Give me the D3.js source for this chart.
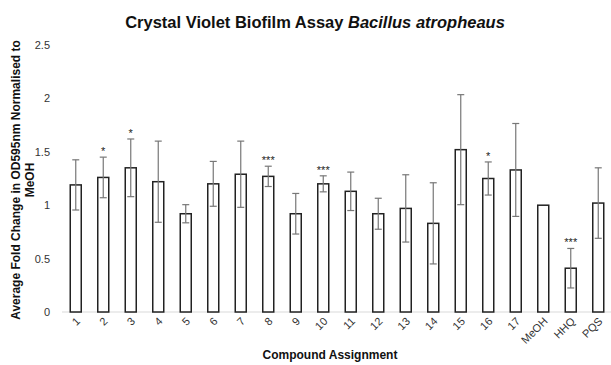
<!DOCTYPE html>
<html><head><meta charset="utf-8">
<script src="https://cdn.jsdelivr.net/npm/d3@7"></script>
<style>body{margin:0;background:#fff}svg{font-family:"Liberation Sans",Arial,sans-serif}</style>
</head><body><svg id="c" width="611" height="365"></svg>
<script>
const categories = ["1","2","3","4","5","6","7","8","9","10","11","12","13","14","15","16","17","MeOH","HHQ","PQS"];
const values = [1.19,1.26,1.35,1.22,0.92,1.20,1.29,1.27,0.92,1.20,1.13,0.92,0.97,0.83,1.52,1.25,1.33,1.00,0.41,1.02];
const errors = [0.235,0.19,0.27,0.38,0.085,0.21,0.31,0.095,0.19,0.075,0.18,0.145,0.315,0.38,0.515,0.155,0.435,0,0.185,0.33];
const stars = ["","*","*","","","","","***","","***","","","","","","*","","","***",""];
const yTicks = [0,0.5,1,1.5,2,2.5];

const svg = d3.select("#c");
const x = d3.scaleBand().domain(categories).range([62,612]).paddingInner(0.6).paddingOuter(0.3);
const y = d3.scaleLinear().domain([0,2.5]).range([312,45]);

svg.append("text").attr("x",315).attr("y",28).attr("text-anchor","middle")
  .attr("font-size",16.5).attr("font-weight","bold").attr("fill","#111")
  .call(t=>{t.append("tspan").text("Crystal Violet Biofilm Assay ");t.append("tspan").attr("font-style","italic").text("Bacillus atropheaus");});

svg.append("g").selectAll("text").data(yTicks).join("text")
  .attr("x",50).attr("y",d=>y(d)+4).attr("text-anchor","end").attr("font-size",11).attr("fill","#333")
  .text(d=>d);

svg.append("line").attr("x1",62).attr("x2",611).attr("y1",y(0)).attr("y2",y(0)).attr("stroke","#d9d9d9").attr("stroke-width",1);

svg.append("g").selectAll("rect").data(categories).join("rect")
  .attr("x",d=>x(d)).attr("width",x.bandwidth())
  .attr("y",(d,i)=>y(values[i])).attr("height",(d,i)=>y(0)-y(values[i]))
  .attr("fill","#fff").attr("stroke","#222").attr("stroke-width",1.5);

const eg = svg.append("g").attr("stroke","#777").attr("stroke-width",1.2);
categories.forEach((c,i)=>{
  if(!errors[i]) return;
  const cx = x(c)+x.bandwidth()/2;
  const t = y(values[i]+errors[i]), b = y(values[i]-errors[i]);
  eg.append("line").attr("x1",cx).attr("x2",cx).attr("y1",t).attr("y2",b);
  eg.append("line").attr("x1",cx-3.5).attr("x2",cx+3.5).attr("y1",t).attr("y2",t);
  eg.append("line").attr("x1",cx-3.5).attr("x2",cx+3.5).attr("y1",b).attr("y2",b);
});

svg.append("g").selectAll("text").data(categories).join("text")
  .attr("x",d=>x(d)+x.bandwidth()/2).attr("y",(d,i)=>y(values[i]+errors[i])-2)
  .attr("text-anchor","middle").attr("font-size",11).attr("fill","#222")
  .text((d,i)=>stars[i]);

svg.append("g").selectAll("text").data(categories).join("text")
  .attr("text-anchor","end").attr("font-size",11).attr("fill","#333")
  .attr("transform",d=>`translate(${x(d)+x.bandwidth()/2+5},${322}) rotate(-45)`)
  .text(d=>d);

svg.append("text").attr("x",330).attr("y",359).attr("text-anchor","middle")
  .attr("font-size",12).attr("font-weight","bold").attr("fill","#111").text("Compound Assignment");

const yt = svg.append("text").attr("transform","translate(20,180) rotate(-90)")
  .attr("text-anchor","middle").attr("font-size",12).attr("font-weight","bold").attr("fill","#111");
yt.append("tspan").attr("x",0).attr("dy",0).text("Average Fold Change in OD595nm Normalised to");
yt.append("tspan").attr("x",0).attr("dy",14).text("MeOH");
</script></body></html>
